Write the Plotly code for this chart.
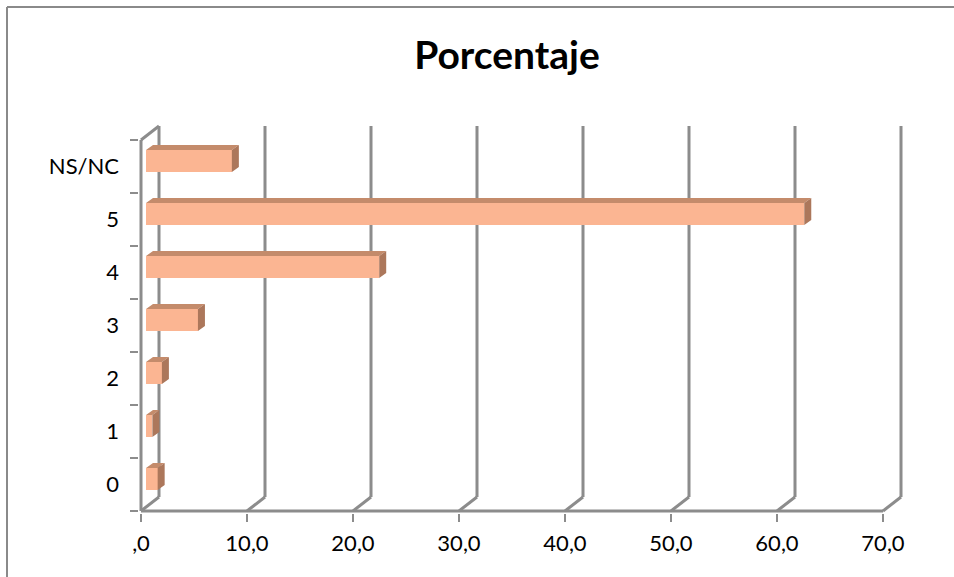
import plotly.graph_objects as go

# ---- data ----
categories = ["0", "1", "2", "3", "4", "5", "NS/NC"]
values = [1.1, 0.6, 1.5, 4.9, 22.0, 62.1, 8.1]
x_tickvals = [0, 10, 20, 30, 40, 50, 60, 70]
x_ticktext = [",0", "10,0", "20,0", "30,0", "40,0", "50,0", "60,0", "70,0"]
title_text = "Porcentaje"

# ---- layout / style constants (pixels) ----
W, H = 954, 577
PX_PER_UNIT = 10.6
PX_PER_CAT = 53.0
X0_PX = 141          # pixel of value 0 on the front plane
YB_PX = 511          # pixel of category boundary -0.5 on the front plane
PL, PR, PT, PB = 139, 905, 123, 513   # plot area edges

x_range = [(PL - X0_PX) / PX_PER_UNIT, (PR - X0_PX) / PX_PER_UNIT]
y_range = [-0.5 - (PB - YB_PX) / PX_PER_CAT, -0.5 + (YB_PX - PT) / PX_PER_CAT]

WALL_DX = 18 / PX_PER_UNIT
WALL_DY = 14 / PX_PER_CAT
BAR_DX0 = 5 / PX_PER_UNIT
BAR_DY0 = 5.5 / PX_PER_CAT
BAR_DEPTH_X = 7 / PX_PER_UNIT
BAR_DEPTH_Y = 5 / PX_PER_CAT
BAR_H = 22 / PX_PER_CAT

FRONT = "#FBB592"
TOP = "#C48B6B"
SIDE = "#AC775B"
LINE = "#8C8C8C"
FONT = "Lato"

n = len(categories)
ymin_front, ymax_front = -0.5, n - 0.5

fig = go.Figure()

# front faces
fig.add_trace(go.Bar(
    orientation="h",
    y=[i + BAR_DY0 for i in range(n)],
    x=values,
    base=BAR_DX0,
    width=BAR_H,
    marker=dict(color=FRONT, line=dict(width=0)),
    hoverinfo="skip",
    showlegend=False,
))

# top and side faces
tx, ty, sx, sy = [], [], [], []
for i, v in enumerate(values):
    yc = i + BAR_DY0
    yt, yb = yc + BAR_H / 2, yc - BAR_H / 2
    x0, x1 = BAR_DX0, BAR_DX0 + v
    tx += [x0, x1, x1 + BAR_DEPTH_X, x0 + BAR_DEPTH_X, x0, None]
    ty += [yt, yt, yt + BAR_DEPTH_Y, yt + BAR_DEPTH_Y, yt, None]
    sx += [x1, x1, x1 + BAR_DEPTH_X, x1 + BAR_DEPTH_X, x1, None]
    sy += [yb, yt, yt + BAR_DEPTH_Y, yb + BAR_DEPTH_Y, yb, None]

fig.add_trace(go.Scatter(x=tx, y=ty, mode="lines", fill="toself", fillcolor=TOP,
                         line=dict(width=0, color=TOP), hoverinfo="skip", showlegend=False))
fig.add_trace(go.Scatter(x=sx, y=sy, mode="lines", fill="toself", fillcolor=SIDE,
                         line=dict(width=0, color=SIDE), hoverinfo="skip", showlegend=False))

shapes = []
lw = 3
# back wall verticals + floor diagonals
for v in x_tickvals:
    shapes.append(dict(type="line", xref="x", yref="y", layer="below",
                       x0=v + WALL_DX, y0=ymin_front + WALL_DY,
                       x1=v + WALL_DX, y1=ymax_front + WALL_DY,
                       line=dict(color=LINE, width=lw)))
    shapes.append(dict(type="line", xref="x", yref="y", layer="below",
                       x0=v, y0=ymin_front, x1=v + WALL_DX, y1=ymin_front + WALL_DY,
                       line=dict(color=LINE, width=lw)))
# front vertical axis + top diagonal
shapes.append(dict(type="line", xref="x", yref="y", layer="below",
                   x0=0, y0=ymin_front, x1=0, y1=ymax_front,
                   line=dict(color=LINE, width=lw)))
shapes.append(dict(type="line", xref="x", yref="y", layer="below",
                   x0=0, y0=ymax_front, x1=WALL_DX, y1=ymax_front + WALL_DY,
                   line=dict(color=LINE, width=lw)))
# front horizontal axis
shapes.append(dict(type="line", xref="x", yref="y", layer="below",
                   x0=0, y0=ymin_front, x1=x_tickvals[-1], y1=ymin_front,
                   line=dict(color=LINE, width=lw)))

# outer chart border (left and top edges visible)
pw, ph = PR - PL, PB - PT
bx = (7 - PL) / pw
by = (PB - 7) / ph
shapes.append(dict(type="line", xref="paper", yref="paper", x0=bx, y0=by, x1=bx, y1=-1,
                   line=dict(color="#8A8A8A", width=2)))
shapes.append(dict(type="line", xref="paper", yref="paper", x0=bx, y0=by, x1=2, y1=by,
                   line=dict(color="#8A8A8A", width=2)))

fig.update_layout(
    width=W, height=H,
    margin=dict(l=PL, r=W - PR, t=PT, b=H - PB, pad=0),
    paper_bgcolor="white", plot_bgcolor="white",
    shapes=shapes,
    showlegend=False,
    bargap=0,
    title=dict(text="<b>" + title_text + "</b>", x=507 / W, xanchor="center",
               y=1 - 55 / H, yanchor="middle", yref="container",
               font=dict(family=FONT, size=39, color="black")),
    font=dict(family=FONT, color="black"),
    xaxis=dict(range=x_range, showgrid=False, zeroline=False, showline=False,
               tickmode="array", tickvals=x_tickvals, ticktext=x_ticktext,
               ticks="outside", ticklen=8, tickwidth=2, tickcolor=LINE,
               ticklabelstandoff=3,
               tickfont=dict(family=FONT, size=22, color="black"), fixedrange=True),
    yaxis=dict(range=y_range, showgrid=False, zeroline=False, showline=False,
               tickmode="array", tickvals=list(range(n)), ticktext=categories,
               ticks="", ticklabelstandoff=19,
               minor=dict(tickmode="array", tickvals=[i - 0.5 for i in range(n + 1)],
                          ticks="outside", ticklen=8, tickwidth=2, tickcolor=LINE),
               tickfont=dict(family=FONT, size=22, color="black"), fixedrange=True),
)

fig.write_html("out.html", config={"displayModeBar": False},
               post_script="document.body.style.margin='0px';document.body.style.overflow='hidden';")
